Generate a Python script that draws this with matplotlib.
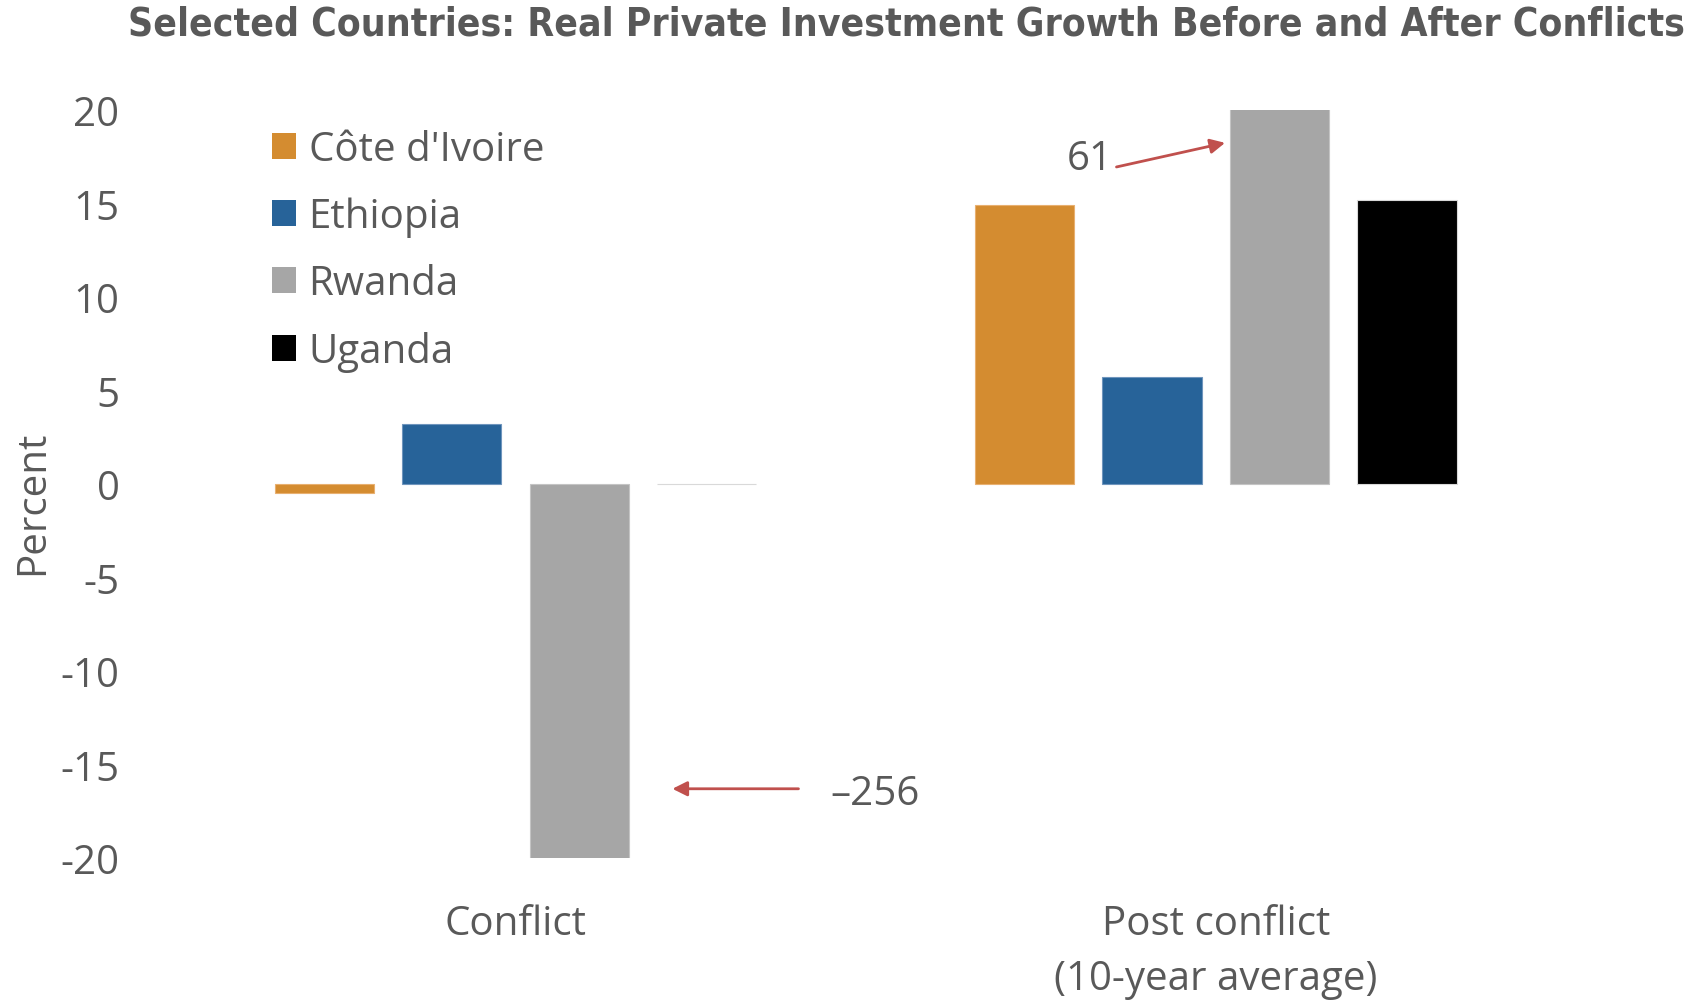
import matplotlib
matplotlib.use("Agg")
import matplotlib.pyplot as plt
from matplotlib.patches import Patch
import numpy as np

# Data
categories = ["Conflict", "Post conflict\n(10-year average)"]
countries = ["Côte d'Ivoire", "Ethiopia", "Rwanda", "Uganda"]
cote_divoire = [-0.5, 14.9]
ethiopia = [3.2, 5.7]
rwanda = [-256, 61]
uganda = [0.0, 15.2]
series = [cote_divoire, ethiopia, rwanda, uganda]
colors = ["#D48C30", "#276399", "#A6A6A6", "#000000"]
edge_colors = ["#E8B070", "#6F95BD", "#C4C4C4", "#D9D9D9"]
yticks = [20, 15, 10, 5, 0, -5, -10, -15, -20]

TEXT = "#595959"
ARROW = "#C0504D"
FONT = "Open Sans"
FS = 29

fig = plt.figure(figsize=(16.95, 10.03), dpi=100)
ax = fig.add_axes([0.0975, 0.1436, 0.8265, 0.7458])

x = np.arange(len(categories))
step = 0.182
width = 0.142
offsets = (np.arange(len(series)) - (len(series) - 1) / 2) * step
for vals, off, c, ec in zip(series, offsets, colors, edge_colors):
    ax.bar(x + off, vals, width=width, color=c, edgecolor=ec, linewidth=0.8)

ax.set_xlim(-0.5, 1.5)
ax.set_ylim(-20, 20)
ax.set_yticks(yticks)
ax.set_yticklabels([str(t) for t in yticks], fontsize=FS, color=TEXT, family=FONT)
ax.set_xticks(x)
ax.set_xticklabels(categories, fontsize=FS, color=TEXT, family=FONT, linespacing=1.47)
ax.tick_params(axis="both", length=0)
ax.tick_params(axis="y", pad=33)
ax.tick_params(axis="x", pad=33)
for s in ax.spines.values():
    s.set_visible(False)

fig.text(0.0195, 0.4985, "Percent", rotation=90, fontsize=FS, color=TEXT,
         family=FONT, ha="center", va="center")

fig.text(0.535, 0.976, "Selected Countries: Real Private Investment Growth Before and After Conflicts",
         fontsize=28, fontweight="bold", color=TEXT, family="DejaVu Sans",
         fontstretch="condensed", ha="center", va="center")

handles = [Patch(facecolor=c, edgecolor="none") for c in colors]
leg = ax.legend(handles, countries, loc="upper left", bbox_to_anchor=(0.050, 1.022),
                frameon=False, handlelength=0.6, handleheight=0.62, handletextpad=0.32,
                labelspacing=0.66, prop={"family": FONT, "size": FS})
for t in leg.get_texts():
    t.set_color(TEXT)

# Off-scale Rwanda values
ax.annotate("", xy=(1.013, 18.24), xytext=(0.858, 16.95),
            arrowprops=dict(arrowstyle="-|>", color=ARROW, lw=2, mutation_scale=22,
                            shrinkA=0, shrinkB=0))
ax.text(0.853, 17.4, "61", fontsize=FS, color=TEXT, family=FONT, ha="right", va="center")
ax.annotate("", xy=(0.224, -16.3), xytext=(0.404, -16.3),
            arrowprops=dict(arrowstyle="-|>", color=ARROW, lw=2, mutation_scale=22,
                            shrinkA=0, shrinkB=0))
ax.text(0.449, -16.55, "\u2013256", fontsize=FS, color=TEXT, family=FONT, ha="left", va="center")

fig.savefig("out.png", dpi=100)
